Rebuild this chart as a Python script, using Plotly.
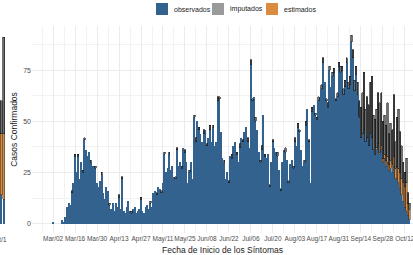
import plotly.graph_objects as go
import pandas as pd

# ---------------- data ----------------
fecha_inicio = "2020-03-02"

observados = [
    1, 0, 0, 0, 0, 0, 2, 1, 3, 8, 10, 9, 15, 20,
    33, 25, 33, 22, 30, 25, 41, 36, 33, 35, 30, 28, 28, 27,
    20, 18, 21, 24, 15, 12, 18, 16, 9, 7, 10, 6, 10, 8,
    13, 7, 22, 6, 5, 8, 11, 6, 5, 7, 8, 5, 6, 7,
    12, 6, 5, 8, 9, 7, 10, 8, 15, 16, 14, 18, 17, 15,
    20, 34, 25, 27, 34, 26, 28, 23, 22, 36, 28, 30, 27, 37,
    35, 30, 20, 25, 30, 22, 52, 40, 50, 46, 44, 40, 44, 46,
    38, 42, 46, 40, 47, 38, 40, 60, 61, 45, 32, 30, 22, 25,
    20, 33, 32, 38, 40, 34, 30, 37, 42, 40, 45, 47, 40, 37,
    78, 60, 62, 50, 46, 35, 30, 36, 53, 33, 32, 34, 18, 30,
    40, 37, 35, 33, 26, 16, 30, 36, 35, 31, 20, 29, 31, 27,
    40, 38, 47, 45, 36, 28, 30, 48, 56, 40, 20, 55, 58, 53,
    51, 60, 62, 66, 79, 69, 60, 57, 75, 67, 72, 74, 60, 62,
    77, 74, 75, 63, 67, 79, 66, 68, 89, 81, 65, 73, 63, 52,
    42, 44, 46, 40, 42, 38, 44, 42, 36, 34, 36, 38, 34, 36,
    30, 32, 28, 30, 26, 27, 25, 28, 22, 22, 20, 17, 14, 11,
    8, 6, 4, 2,
]

imputados = [
    0, 0, 0, 0, 0, 0, 0, 0, 0, 0, 0, 0, 1, 0,
    1, 0, 1, 0, 0, 1, 1, 0, 0, 0, 1, 0, 0, 1,
    0, 0, 0, 1, 0, 0, 0, 0, 1, 0, 0, 0, 0, 0,
    1, 0, 1, 0, 0, 0, 0, 0, 1, 0, 0, 0, 0, 0,
    1, 0, 0, 0, 0, 0, 1, 0, 0, 0, 1, 0, 0, 1,
    0, 1, 0, 0, 1, 0, 0, 0, 1, 1, 0, 0, 1, 0,
    1, 0, 0, 1, 0, 0, 1, 2, 0, 1, 0, 0, 2, 0,
    1, 0, 2, 0, 1, 0, 0, 2, 1, 0, 0, 1, 0, 0,
    1, 0, 2, 0, 0, 1, 0, 2, 0, 1, 0, 0, 2, 0,
    2, 1, 0, 2, 0, 0, 1, 2, 0, 1, 0, 0, 1, 0,
    1, 0, 0, 2, 0, 1, 0, 0, 2, 0, 1, 0, 0, 1,
    2, 0, 2, 1, 0, 0, 1, 2, 0, 1, 0, 2, 0, 1,
    1, 2, 0, 2, 2, 0, 1, 2, 2, 0, 2, 2, 1, 2,
    2, 3, 2, 3, 3, 2, 3, 4, 3, 4, 5, 4, 6, 8,
    15, 20, 28, 16, 20, 20, 25, 30, 17, 17, 19, 25, 24, 26,
    18, 19, 17, 26, 15, 18, 17, 30, 13, 24, 29, 20, 16, 10,
    7, 12, 5, 3,
]

estimados = [0] * 196 + [
    0, 0, 0, 0, 0, 0, 0, 0, 0, 0, 1, 1, 1, 2,
    2, 2, 3, 3, 3, 4, 4, 5, 5, 6, 7, 8, 8, 9,
    10, 14, 6, 5,
]

tick_fechas = ["2020-03-02", "2020-03-16", "2020-03-30", "2020-04-13", "2020-04-27",
               "2020-05-11", "2020-05-25", "2020-06-08", "2020-06-22", "2020-07-06",
               "2020-07-20", "2020-08-03", "2020-08-17", "2020-08-31", "2020-09-14",
               "2020-09-28", "2020-10-12"]
tick_textos = ["Mar/02", "Mar/16", "Mar/30", "Apr/13", "Apr/27", "May/11", "May/25",
               "Jun/08", "Jun/22", "Jul/06", "Jul/20", "Aug/03", "Aug/17", "Aug/31",
               "Sep/14", "Sep/28", "Oct/12"]
y_ticks = [0, 25, 50, 75]

# last bars of the neighbouring (cropped) panel at the left edge
vecino_obs = [14, 12]
vecino_est = [30, 32]
vecino_imp = [16, 47]

series_nombres = ["observados", "imputados", "estimados"]

# ---------------- style ----------------
W, H = 413, 255
AZUL = "#34628F"
GRIS = "#9A9A9A"
GRIS_BARRA = "#707070"
NARANJA = "#D98C3F"
FONT = "Liberation Sans, Arial, sans-serif"
TOP, BOTTOM = 26, 233          # plot area in px
LEFT = 32

fechas = pd.date_range(fecha_inicio, periods=len(observados), freq="D")


def sin_ceros(vals):
    # zero-height segments are not drawn (avoids stray outline strokes)
    return [v if v else None for v in vals]


fig = go.Figure()
fig.add_trace(go.Bar(x=fechas, y=sin_ceros(observados), name="observados",
                     marker=dict(color=AZUL, line=dict(width=0)),
                     xaxis="x", yaxis="y", showlegend=False))
fig.add_trace(go.Bar(x=fechas, y=sin_ceros(estimados), name="estimados",
                     marker=dict(color=NARANJA, line=dict(color="#3a2a1a", width=0.5)),
                     xaxis="x", yaxis="y", showlegend=False))
fig.add_trace(go.Bar(x=fechas, y=sin_ceros(imputados), name="imputados",
                     marker=dict(color=GRIS_BARRA, line=dict(color="#111111", width=0.6)),
                     xaxis="x", yaxis="y", showlegend=False))

pos_vecino = list(range(1, len(vecino_obs) + 1))
fig.add_trace(go.Bar(x=pos_vecino, y=vecino_obs, marker=dict(color=AZUL, line=dict(width=0)),
                     xaxis="x2", yaxis="y2", showlegend=False))
fig.add_trace(go.Bar(x=pos_vecino, y=vecino_est,
                     marker=dict(color=NARANJA, line=dict(color="#3a2a1a", width=0.5)),
                     xaxis="x2", yaxis="y2", showlegend=False))
fig.add_trace(go.Bar(x=pos_vecino, y=vecino_imp,
                     marker=dict(color=GRIS_BARRA, line=dict(color="#111111", width=0.6)),
                     xaxis="x2", yaxis="y2", showlegend=False))

DAY = 86400000
yr = [-4.6, 96.6]

fig.update_layout(
    width=W, height=H,
    margin=dict(l=0, r=0, t=TOP, b=H - BOTTOM, pad=0, autoexpand=False),
    paper_bgcolor="white", plot_bgcolor="white",
    barmode="stack", bargap=0.1,
    font=dict(family=FONT, size=7, color="#4D4D4D"),
    xaxis=dict(
        domain=[LEFT / W, 1], anchor="y", type="date", automargin=False,
        range=["2020-02-17 14:00", "2020-10-17 05:00"],
        tickmode="array", tickvals=tick_fechas, ticktext=tick_textos,
        tickfont=dict(size=6.5, color="#4D4D4D"), ticks="", tickangle=0,
        ticklabeloverflow="allow",
        showgrid=True, gridcolor="#EBEBEB", gridwidth=1,
        minor=dict(tickmode="linear", tick0="2020-03-09", dtick=14 * DAY,
                   showgrid=True, gridcolor="#F2F2F2", gridwidth=1),
        zeroline=False, showline=False,
        title=dict(text="Fecha de Inicio de los Síntomas",
                   font=dict(size=8.5, color="#1a1a1a"), standoff=5),
    ),
    yaxis=dict(
        domain=[0, 1], anchor="x", range=yr, automargin=False,
        tickmode="array", tickvals=y_ticks,
        tickfont=dict(size=7, color="#4D4D4D"), ticks="",
        showgrid=True, gridcolor="#EBEBEB", gridwidth=1,
        minor=dict(tickmode="linear", tick0=12.5, dtick=25,
                   showgrid=True, gridcolor="#F2F2F2", gridwidth=1),
        zeroline=False, showline=False,
        title=dict(text="Casos Confirmados", font=dict(size=8.5, color="#1a1a1a"), standoff=4),
    ),
    xaxis2=dict(domain=[0, 6 / W], anchor="y2", range=[0.5, 2.9], visible=False),
    yaxis2=dict(domain=[0, 1], anchor="x2", range=yr, visible=False),
)

# legend drawn as compact ggplot-style key
ph = BOTTOM - TOP
def py(p):
    return (BOTTOM - p) / ph

key_x = [156, 212, 266]
key_colors = [AZUL, GRIS, NARANJA]
for kx, col, nombre in zip(key_x, key_colors, series_nombres):
    fig.add_shape(type="rect", xref="paper", yref="paper",
                  x0=kx / W, x1=(kx + 12) / W, y0=py(15), y1=py(3),
                  fillcolor=col, line=dict(width=0))
    fig.add_annotation(xref="paper", yref="paper", x=(kx + 16) / W, y=py(9),
                       text=nombre, showarrow=False, xanchor="left", yanchor="middle",
                       font=dict(size=7, color="#1a1a1a", family=FONT))

# cropped tick label of neighbouring panel
fig.add_annotation(xref="paper", yref="paper", x=9 / W, y=py(240),
                   text="Oct/1", showarrow=False, xanchor="right", yanchor="middle",
                   font=dict(size=7, color="#4D4D4D", family=FONT))

fig.write_html("out.html", config={"displayModeBar": False},
               post_script="document.body.style.margin='0px';document.body.style.overflow='hidden';")
